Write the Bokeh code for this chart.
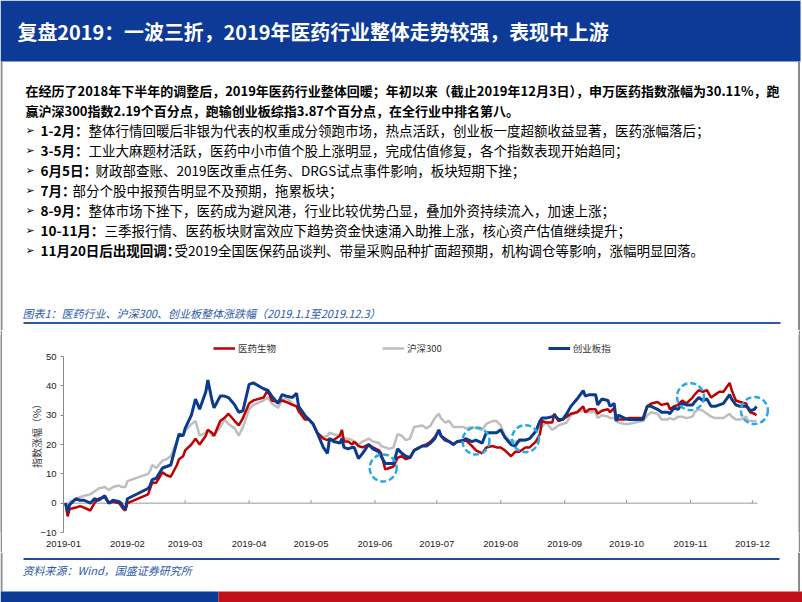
import pandas as pd
from bokeh.plotting import figure
from bokeh.models import Range1d, FixedTicker, DatetimeTickFormatter, Legend, LegendItem
from bokeh.layouts import column, row
from bokeh.embed import file_html
from bokeh.resources import INLINE
from bokeh.core.properties import value

# ---------------- data ----------------
dates = ["2019-01-02", "2019-01-03", "2019-01-04", "2019-01-07", "2019-01-09", "2019-01-11", "2019-01-14",
         "2019-01-16", "2019-01-18", "2019-01-21", "2019-01-23", "2019-01-25", "2019-01-28", "2019-01-29",
         "2019-01-30", "2019-01-31", "2019-02-01", "2019-02-11", "2019-02-12", "2019-02-13", "2019-02-15",
         "2019-02-18", "2019-02-20", "2019-02-22", "2019-02-25", "2019-02-26", "2019-02-28", "2019-03-01",
         "2019-03-04", "2019-03-06", "2019-03-08", "2019-03-11", "2019-03-12", "2019-03-14", "2019-03-15",
         "2019-03-18", "2019-03-20", "2019-03-22", "2019-03-25", "2019-03-27", "2019-03-29", "2019-04-01",
         "2019-04-03", "2019-04-08", "2019-04-10", "2019-04-12", "2019-04-15", "2019-04-17", "2019-04-19",
         "2019-04-22", "2019-04-24", "2019-04-25", "2019-04-28", "2019-04-30", "2019-05-02", "2019-05-04",
         "2019-05-07", "2019-05-09", "2019-05-10", "2019-05-12", "2019-05-15", "2019-05-16", "2019-05-17",
         "2019-05-19", "2019-05-21", "2019-05-22", "2019-05-24", "2019-05-26", "2019-05-29", "2019-05-31",
         "2019-06-03", "2019-06-04", "2019-06-06", "2019-06-08", "2019-06-10", "2019-06-12", "2019-06-14",
         "2019-06-16", "2019-06-18", "2019-06-20", "2019-06-24", "2019-06-26", "2019-06-28", "2019-06-30",
         "2019-07-02", "2019-07-03", "2019-07-05", "2019-07-07", "2019-07-09", "2019-07-11", "2019-07-14",
         "2019-07-15", "2019-07-18", "2019-07-20", "2019-07-23", "2019-07-25", "2019-07-28", "2019-07-30",
         "2019-08-01", "2019-08-03", "2019-08-06", "2019-08-08", "2019-08-10", "2019-08-13", "2019-08-15",
         "2019-08-18", "2019-08-20", "2019-08-21", "2019-08-23", "2019-08-26", "2019-08-27", "2019-08-29",
         "2019-08-31", "2019-09-02", "2019-09-04", "2019-09-07", "2019-09-10", "2019-09-11", "2019-09-13",
         "2019-09-16", "2019-09-17", "2019-09-19", "2019-09-22", "2019-09-23", "2019-09-25", "2019-09-26",
         "2019-09-27", "2019-09-30", "2019-10-02", "2019-10-05", "2019-10-09", "2019-10-11", "2019-10-13",
         "2019-10-16", "2019-10-18", "2019-10-21", "2019-10-22", "2019-10-24", "2019-10-26", "2019-10-28",
         "2019-10-30", "2019-11-02", "2019-11-03", "2019-11-05", "2019-11-07", "2019-11-09", "2019-11-11",
         "2019-11-13", "2019-11-15", "2019-11-17", "2019-11-20", "2019-11-21", "2019-11-23", "2019-11-25",
         "2019-11-28", "2019-11-29", "2019-11-30", "2019-12-02", "2019-12-03"]

yiyao = [0, -4.5, -2, -1.5, -1, -1.5, -2.5, 0, 1.5, 2, 0, 0.5, 0, -1, -2, -2.5, 0, 3, 5, 7, 7, 10.5, 9.5, 9,
         13, 15, 16, 18, 20, 22, 20, 23, 25, 24, 23, 28, 29, 30.5, 28, 26.5, 29, 34, 35, 36, 38.5, 35, 34.5,
         35, 34.5, 33.5, 33, 31.5, 28.5, 28.5, 27, 24, 22, 21.5, 22, 21.5, 23, 25, 21, 21, 20, 21, 19.5, 19,
         20, 19, 18, 17, 11.5, 12, 12.5, 15.5, 16, 15, 15.5, 18, 19.5, 20, 21, 22.5, 24.5, 23, 22, 21, 20,
         21, 21, 21.5, 19.5, 18, 17, 19, 19.5, 19, 19, 18, 16, 17.5, 17.5, 19, 19, 21, 23.5, 28, 27.5, 27.5,
         30.5, 28, 28.5, 29.5, 30.5, 31, 33, 31, 32, 32, 30.5, 31.5, 32, 31, 32.5, 28.5, 28.5, 28.5, 29, 29,
         29, 33, 34, 34.5, 33.5, 34, 32, 33, 33.5, 35, 34, 36, 37, 38.5, 38, 38.5, 36, 37, 38, 38, 41, 38.5,
         35, 34.5, 34, 32, 31, 30.5, 30]

hs300 = [0, -1, 0.5, 1.5, 2, 2.5, 3, 4, 5, 5.5, 4.5, 5.5, 6, 5.5, 5.5, 5.5, 7.5, 10, 11, 13, 12, 14.5, 15,
         16, 21, 23, 23, 24.5, 27, 28, 23, 24, 25, 23, 23, 26, 28.5, 27, 25.5, 23, 26, 32, 33.5, 35, 36, 34,
         32.5, 35, 36, 34, 33, 31, 29, 28.5, 27, 24, 22.5, 23, 24, 23.5, 23, 22.5, 22, 22, 21.5, 20.5, 20, 21,
         22, 21, 20.5, 19.5, 19, 18.5, 19, 23.5, 23, 21.5, 22, 26, 26.5, 25.5, 26.5, 29, 30.5, 29, 27.5, 28,
         26, 26, 26, 25.5, 26, 25.5, 25, 27, 28, 28, 26.5, 23, 21, 21, 21, 21.5, 22, 24.5, 26, 26, 27.5, 25,
         25.5, 26.5, 27, 27.5, 30, 31, 31.5, 31, 31, 31, 29, 30, 29.5, 29, 29, 28, 27.5, 27, 27, 27.5, 28, 30,
         31, 30.5, 28.5, 28.5, 29, 28.5, 29.5, 29.5, 29, 29.5, 31, 32, 31.5, 30.5, 29.5, 29, 29, 29, 30.5,
         29.5, 28.5, 28.5, 29.5, 28, 28, 28, 28]

cyb = [0, -3, -0.5, 1.5, 1, 1, 0, 1.5, 1, 2.5, 0, 1, 0.5, 0, -1.5, -2, 1.5, 5, 6, 8, 8.5, 12, 12.5, 13, 21,
       23.5, 23, 25.5, 30, 35.5, 32, 38, 42, 35, 32.5, 36.5, 36.5, 36, 33.5, 31, 31.5, 40.5, 41, 39, 38.5,
       36.5, 34, 37, 36.5, 36, 37.5, 33, 30, 28.5, 27, 24, 19, 17, 22, 21, 20.5, 22, 19, 18.5, 19, 19, 15.2,
       17, 20, 18.5, 17.5, 16, 13.5, 13.5, 13.5, 18.5, 17, 16, 15.5, 18, 19.5, 19.5, 20.5, 22, 25, 23, 21.5,
       21, 20, 21, 21.5, 22, 21, 21.5, 20.5, 24, 24, 24, 25, 22.5, 20, 19.5, 21.5, 21.5, 22, 24.5, 28, 29,
       29, 29.5, 30, 28.5, 28.5, 30.5, 33, 35.5, 38.4, 36.5, 37, 37, 33.5, 35.5, 35, 33, 34, 28, 30, 29,
       28.5, 28.5, 28.5, 33, 33, 32, 31, 31, 30.5, 32.5, 32, 34, 33.5, 33.5, 34.5, 36, 35, 35.5, 33, 33,
       33.5, 34, 37, 35.5, 33.5, 33, 33, 32.5, 31.5, 32, 33]

series_names = ["医药生物", "沪深300", "创业板指"]
month_ticks = ["2019-01-01", "2019-02-01", "2019-03-01", "2019-04-01", "2019-05-01", "2019-06-01",
               "2019-07-01", "2019-08-01", "2019-09-01", "2019-10-01", "2019-11-01", "2019-12-01"]
axis_end = "2019-12-03"
y_ticks = [-10, 0, 10, 20, 30, 40, 50]

# highlighted moments (dashed circles)
circle_dates = ["2019-06-05", "2019-07-20", "2019-08-13", "2019-11-01", "2019-12-02"]
circle_vals = [12, 21.2, 22, 36.3, 31.6]

title_text = "复盘2019：一波三折，2019年医药行业整体走势较强，表现中上游"
intro_lines = ["在经历了2018年下半年的调整后，2019年医药行业整体回暖；年初以来（截止2019年12月3日），申万医药指数涨幅为30.11%，跑",
               "赢沪深300指数2.19个百分点，跑输创业板综指3.87个百分点，在全行业中排名第八。"]
bullet_heads = ["1-2月：", "3-5月：", "6月5日：", "7月：", "8-9月：", "10-11月：", "11月20日后出现回调："]
bullet_bodies = ["整体行情回暖后非银为代表的权重成分领跑市场，热点活跃，创业板一度超额收益显著，医药涨幅落后；",
                 "工业大麻题材活跃，医药中小市值个股上涨明显，完成估值修复，各个指数表现开始趋同；",
                 "财政部查账、2019医改重点任务、DRGS试点事件影响，板块短期下挫；",
                 "部分个股中报预告明显不及预期，拖累板块；",
                 "整体市场下挫下，医药成为避风港，行业比较优势凸显，叠加外资持续流入，加速上涨；",
                 "三季报行情、医药板块财富效应下趋势资金快速涌入助推上涨，核心资产估值继续提升；",
                 "受2019全国医保药品谈判、带量采购品种扩面超预期，机构调仓等影响，涨幅明显回落。"]
caption_text = "图表1：医药行业、沪深300、创业板整体涨跌幅（2019.1.1至2019.12.3）"
source_text = "资料来源：Wind，国盛证券研究所"

# ---------------- styles ----------------
CJK = value("Noto Sans CJK SC")
LAT = "Liberation Sans"
NAVY = "#0D3A96"
RED = "#C00000"
GREY = "#BEBEBE"
BLUE = "#0B3B8C"
CAP_BLUE = "#2D5BA8"
BORDER = "#8C8C8C"
W = 802


def blank(width, height, ytop, ybot):
    f = figure(width=width, height=height, x_range=Range1d(0, width), y_range=Range1d(ybot, ytop),
               toolbar_location=None, output_backend="svg", x_axis_location=None, y_axis_location=None,
               min_border=0)
    f.grid.visible = False
    f.outline_line_color = None
    f.background_fill_color = "white"
    f.border_fill_color = "white"
    return f


# ---------------- top part (title + text + caption) ----------------
top = blank(W, 330, 0, 330)
top.quad(left=0, right=800, top=0, bottom=61, fill_color=NAVY, line_color=None)
top.segment(x0=[1, 798.5], y0=[61, 61], x1=[1, 798.5], y1=[330, 330], line_color=BORDER, line_width=2)
top.text(x=[17], y=[31], text=[title_text], text_font=CJK, text_font_size="19.9px", text_color="white",
         text_baseline="middle", text_font_style="bold")

line_y = [89.5 + 20 * i for i in range(9)]
top.text(x=[25, 25], y=line_y[:2], text=intro_lines, text_font=CJK, text_font_size="13px",
         text_font_style="bold", text_color="black", text_baseline="middle")
by = line_y[2:]
top.text(x=[25] * 7, y=by, text=["➢"] * 7, text_font=value("DejaVu Sans"), text_font_size="11px",
         text_color="black", text_baseline="middle")
top.text(x=[40] * 7, y=by, text=bullet_heads, text_font=CJK, text_font_size="13.5px",
         text_font_style="bold", text_color="black", text_baseline="middle")
body_x = [88, 88, 95, 72, 88, 104, 174]
top.text(x=body_x, y=by, text=bullet_bodies, text_font=CJK, text_font_size="13.5px",
         text_color="black", text_baseline="middle")

top.text(x=[22], y=[312], text=[caption_text], text_font=CJK, text_font_size="11px",
         text_font_style="italic", text_color=CAP_BLUE, text_baseline="middle")
top.segment(x0=[23], y0=[322.5], x1=[780], y1=[322.5], line_color=CAP_BLUE, line_width=2)

# ---------------- chart ----------------
dt = pd.to_datetime(dates)
mt = pd.to_datetime(month_ticks)
cd = pd.to_datetime(circle_dates)
x_start = pd.Timestamp(month_ticks[0])
x_end = pd.Timestamp(axis_end) + pd.Timedelta(hours=12)

# px per day along the axis; frame is widened a little to the right so the last circle is not cut
px_per_day = 694 / ((x_end - x_start) / pd.Timedelta(days=1))
extra_px = 14
view_end = x_end + pd.Timedelta(days=extra_px / px_per_day)

p = figure(width=796, height=222, x_axis_type="datetime",
           x_range=Range1d(x_start, view_end),
           y_range=Range1d(-10, 57.5), toolbar_location=None, output_backend="svg",
           min_border_left=61, min_border_right=41 - extra_px, min_border_top=4, min_border_bottom=20)
p.grid.visible = False
p.outline_line_color = None
p.background_fill_color = "white"
p.border_fill_color = "white"

# zero line (axis through 0) with small upward month ticks
p.segment(x0=[x_start], y0=[0], x1=[x_end], y1=[0], line_color="#9A9A9A", line_width=1)
p.segment(x0=mt[1:], y0=[0] * 11, x1=mt[1:], y1=[1.1] * 11, line_color="#9A9A9A", line_width=1)

r_grey = p.line(dt, hs300, line_color=GREY, line_width=2.5)
r_red = p.line(dt, yiyao, line_color=RED, line_width=2.5)
r_blue = p.line(dt, cyb, line_color=BLUE, line_width=3)

p.scatter(cd, circle_vals, size=27, marker="circle", fill_alpha=0, line_color="#29A9E1",
          line_width=2.5, line_dash="6 3")

p.yaxis.ticker = FixedTicker(ticks=y_ticks)
p.yaxis.bounds = (-10, 50)
p.yaxis.axis_label = "指数涨幅（%）"
p.yaxis.axis_label_text_font = "Noto Sans CJK SC"
p.yaxis.axis_label_text_font_size = "10px"
p.yaxis.axis_label_text_font_style = "normal"
p.yaxis.axis_label_text_color = "#333333"
p.yaxis.axis_label_standoff = -7
p.yaxis.major_label_text_font = LAT
p.yaxis.major_label_text_font_size = "9.5px"
p.yaxis.major_label_text_color = "#222222"
p.yaxis.major_label_standoff = 4
p.yaxis.axis_line_color = "#8A8A8A"
p.yaxis.major_tick_line_color = "#8A8A8A"
p.yaxis.major_tick_in = 0
p.yaxis.major_tick_out = 3
p.yaxis.minor_tick_line_color = None

p.xaxis.ticker = FixedTicker(ticks=[t.value // 10**6 for t in mt])
fmt = "%Y-%m"
p.xaxis.formatter = DatetimeTickFormatter(days=fmt, months=fmt, years=fmt, hours=fmt, minutes=fmt)
p.xaxis.axis_line_color = None
p.xaxis.major_tick_line_color = None
p.xaxis.minor_tick_line_color = None
p.xaxis.major_label_text_font = LAT
p.xaxis.major_label_text_font_size = "9.5px"
p.xaxis.major_label_text_color = "#222222"
p.xaxis.major_label_standoff = 2

legend = Legend(items=[LegendItem(label=series_names[0], renderers=[r_red]),
                       LegendItem(label=series_names[1], renderers=[r_grey]),
                       LegendItem(label=series_names[2], renderers=[r_blue])],
                orientation="horizontal", location=(150, 177), spacing=106, glyph_width=22,
                glyph_height=10, label_standoff=3, padding=0, margin=0, label_height=10,
                border_line_color=None, background_fill_alpha=0,
                label_text_font="Noto Sans CJK SC", label_text_font_size="9.5px",
                label_text_color="#333333")
p.add_layout(legend)


def strip(color, width=2, height=222):
    f = blank(width, height, 0, height)
    f.background_fill_color = color
    f.border_fill_color = color
    return f


mid = row(strip(BORDER), p, strip(BORDER), strip("white"))

# ---------------- bottom ----------------
bot = blank(W, 50, 552, 602)
bot.segment(x0=[1, 798.5], y0=[552, 552], x1=[1, 798.5], y1=[591, 591], line_color=BORDER, line_width=2)
bot.segment(x0=[23], y0=[558.5], x1=[779], y1=[558.5], line_color="#1F4E9E", line_width=2)
bot.text(x=[22], y=[569.5], text=[source_text], text_font=CJK, text_font_size="11px",
         text_font_style="italic", text_color=CAP_BLUE, text_baseline="middle")
bot.quad(left=[0, 218], right=[218, 802], top=[591, 591], bottom=[602, 602],
         fill_color=[NAVY, "#C0101A"], line_color=None)

layout = column(top, mid, bot)
open("out.html", "w").write(file_html(layout, INLINE))
